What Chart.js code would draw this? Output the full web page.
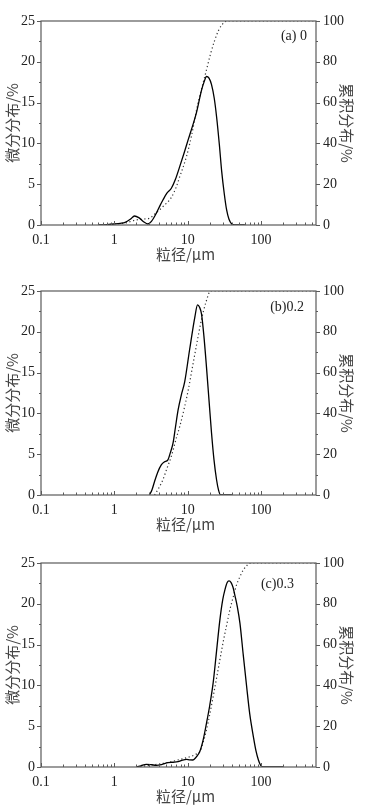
<!DOCTYPE html>
<html>
<head>
<meta charset="utf-8">
<script src="https://cdn.jsdelivr.net/npm/chart.js@4.4.0/dist/chart.umd.min.js"></script>
<style>
  body { margin: 0; background: #fff; }
  .panel { position: absolute; left: 0; width: 374px; height: 270px; }
</style>
</head>
<body>
<div class="panel" style="top:0"><canvas id="c0" width="374" height="270"></canvas></div>
<div class="panel" style="top:270px"><canvas id="c1" width="374" height="270"></canvas></div>
<div class="panel" style="top:542px"><canvas id="c2" width="374" height="270"></canvas></div>
<script>
// x ticks (particle size, um)
const xTickLabels = [0.1, 1, 10, 100];

// (a) 0
const sizeA = [0.6, 0.8, 1.0, 1.2, 1.4, 1.65, 1.88, 2.15, 2.5, 2.86, 3.2, 3.72, 4.2, 4.59, 5.2, 5.98, 6.8, 7.77, 8.9, 10.1, 11.5, 13.1, 15.4, 16.8, 18.0, 19.5, 21.1, 23, 24.7, 27, 29, 31.5, 33.9, 36.5, 39.8, 43, 60];
const diffA = [0, 0.05, 0.12, 0.2, 0.32, 0.7, 1.1, 0.9, 0.4, 0.12, 0.45, 1.43, 2.4, 3.06, 3.9, 4.5, 5.6, 7.15, 8.8, 10.4, 12.0, 13.7, 16.5, 17.6, 18.2, 18.0, 17.2, 15.5, 13.3, 9.8, 6.6, 3.8, 1.84, 0.7, 0.12, 0, 0];
const cumSizeA = [0.7, 1.0, 1.4, 2.0, 2.5, 3.0, 3.6, 4.59, 5.98, 7.0, 7.77, 9.6, 11.3, 13.1, 15.5, 18.0, 20.5, 23.4, 26, 29, 32, 34, 40, 600];
const cumA = [0, 0.5, 1.0, 2.5, 2.9, 3.3, 5.5, 9, 13.5, 18.8, 23.6, 33.5, 44, 56, 67, 76, 84, 90.7, 95, 98, 99.5, 100, 100, 100];

// (b) 0.2
const sizeB = [3.0, 3.25, 3.53, 3.9, 4.36, 4.8, 5.37, 5.8, 6.3, 6.8, 7.38, 8.2, 9.1, 10.6, 12.5, 13.6, 14.5, 15.4, 16.6, 18.0, 19.5, 21.1, 22.8, 24.7, 26.3, 28, 40];
const diffB = [0, 0.6, 1.66, 2.8, 3.7, 4.05, 4.3, 5.2, 6.35, 8.3, 10.4, 12.3, 13.9, 17.8, 21.8, 23.3, 23.0, 22.2, 19.5, 15.7, 11.6, 7.6, 4.3, 1.87, 0.6, 0, 0];
const cumSizeB = [3.53, 4.0, 4.59, 5.2, 5.98, 7.0, 7.77, 8.9, 10.1, 11.5, 13.1, 15.4, 17.7, 20.5, 30, 600];
const cumB = [0, 3.2, 7.5, 13, 19, 28, 33.5, 42, 51, 62, 73, 86, 94.5, 100, 100, 100];

// (c) 0.3
const sizeC = [2.0, 2.3, 2.72, 3.2, 3.72, 4.4, 5.37, 6.3, 7.38, 8.5, 9.6, 10.6, 11.8, 13, 14.6, 16.2, 18.0, 20, 22.2, 24.7, 27.4, 30, 32.1, 34.5, 36.5, 39, 41.5, 44, 47.5, 51.5, 57, 63.6, 70, 78.5, 85, 91.9, 98, 105, 200];
const diffC = [0, 0.15, 0.33, 0.28, 0.2, 0.3, 0.53, 0.58, 0.65, 0.85, 0.94, 0.88, 0.86, 1.2, 1.9, 3.3, 5.35, 7.6, 10.3, 14.2, 18.0, 20.5, 21.7, 22.6, 22.8, 22.6, 22.0, 21.0, 19.6, 17.6, 13.8, 9.8, 6.5, 3.7, 2.0, 0.86, 0.25, 0, 0];
const cumSizeC = [2.0, 3.0, 5.0, 8.0, 11.0, 13.0, 14.6, 16.2, 18.0, 20, 22.2, 24.7, 27.4, 30.5, 33.9, 37.5, 41.8, 46, 51.5, 57.2, 64, 73, 100, 600];
const cumC = [0, 0.8, 2, 3.8, 5.2, 6.3, 7.5, 12, 18.1, 26, 34.5, 43.5, 52.5, 61.5, 69.5, 77, 83.5, 89, 93.3, 96.6, 98.8, 100, 100, 100];

const panels = [
  { id: 'c0', text: '(a) 0', dx: 9, dy: 15, sizes: sizeA, diff: diffA, cumSizes: cumSizeA, cum: cumA },
  { id: 'c1', text: '(b)0.2', dx: 12, dy: 16.5, sizes: sizeB, diff: diffB, cumSizes: cumSizeB, cum: cumB },
  { id: 'c2', text: '(c)0.3', dx: 22, dy: 21.5, sizes: sizeC, diff: diffC, cumSizes: cumSizeC, cum: cumC }
];

const serif = '"Liberation Serif", "Times New Roman", serif';
const cjk = '"Noto Sans CJK SC", sans-serif';
const tickColor = '#222';
const titleColor = '#444';

// frame, tick marks, x title and the panel label
const framePlugin = {
  id: 'frame',
  afterDatasetsDraw(chart, args, opts) {
    const { ctx, chartArea: a, scales } = chart;
    ctx.save();
    ctx.strokeStyle = '#5a5a5a';
    ctx.lineWidth = 1.2;
    ctx.strokeRect(a.left, a.top, a.right - a.left, a.bottom - a.top);

    ctx.lineWidth = 1;
    ctx.beginPath();
    for (let v = 0; v <= 25; v += 2.5) {
      const y = Math.round(scales.y.getPixelForValue(v)) + 0.5;
      const len = v % 5 === 0 ? 4 : 2;
      ctx.moveTo(a.left - len, y);
      ctx.lineTo(a.left, y);
    }
    for (let v = 0; v <= 100; v += 10) {
      const y = Math.round(scales.y2.getPixelForValue(v)) + 0.5;
      const len = v % 20 === 0 ? 4 : 2;
      ctx.moveTo(a.right, y);
      ctx.lineTo(a.right + len, y);
    }
    for (let d = -1; d < 3; d++) {
      for (let m = 1; m < 10; m++) {
        const val = m * Math.pow(10, d);
        if (val > scales.x.max) break;
        const x = Math.round(scales.x.getPixelForValue(val)) + 0.5;
        const len = m === 1 ? 4 : 2.5;
        ctx.moveTo(x, a.bottom);
        ctx.lineTo(x, a.bottom - len);
      }
    }
    ctx.stroke();

    // x axis title, a bit right of centre like the original
    ctx.fillStyle = titleColor;
    ctx.font = '15px ' + cjk;
    ctx.textAlign = 'center';
    ctx.textBaseline = 'middle';
    ctx.fillText('粒径/μm', (a.left + a.right) / 2 + 7, chart.height - 16);

    ctx.fillStyle = tickColor;
    ctx.font = '14px ' + serif;
    ctx.textAlign = 'right';
    ctx.fillText(opts.text, a.right - opts.dx, a.top + opts.dy);
    ctx.restore();
  }
};

panels.forEach(function (p) {
  const diffPts = p.sizes.map((s, i) => ({ x: s, y: p.diff[i] }));
  const cumPts = p.cumSizes.map((s, i) => ({ x: s, y: p.cum[i] }));

  new Chart(document.getElementById(p.id), {
    type: 'line',
    data: {
      datasets: [
        {
          data: diffPts,
          yAxisID: 'y',
          borderColor: '#000',
          borderWidth: 1.3,
          pointRadius: 0,
          fill: false,
          cubicInterpolationMode: 'monotone'
        },
        {
          data: cumPts,
          yAxisID: 'y2',
          borderColor: '#333',
          borderWidth: 1.2,
          borderDash: [1.2, 2.6],
          pointRadius: 0,
          fill: false,
          cubicInterpolationMode: 'monotone'
        }
      ]
    },
    options: {
      responsive: false,
      animation: false,
      devicePixelRatio: 1,
      layout: { padding: { top: 21, left: 0, right: 0, bottom: 0 } },
      plugins: {
        legend: { display: false },
        tooltip: { enabled: false },
        frame: { text: p.text, dx: p.dx, dy: p.dy }
      },
      scales: {
        x: {
          type: 'logarithmic',
          min: 0.1,
          max: 560,
          afterBuildTicks: s => { s.ticks = xTickLabels.map(v => ({ value: v })); },
          afterFit: s => { s.height = 45; },
          grid: { display: false, drawTicks: false },
          border: { display: false },
          ticks: {
            autoSkip: false,
            maxRotation: 0,
            padding: 7,
            color: tickColor,
            font: { family: serif, size: 14 },
            callback: v => String(v)
          }
        },
        y: {
          position: 'left',
          min: 0,
          max: 25,
          afterFit: s => { s.width = 41; },
          grid: { display: false, drawTicks: false },
          border: { display: false },
          ticks: { stepSize: 5, padding: 6, color: tickColor, font: { family: serif, size: 14 } },
          title: {
            display: true,
            text: '微分分布/%',
            color: titleColor,
            font: { family: cjk, size: 15 },
            padding: { top: 3, bottom: 0 }
          }
        },
        y2: {
          position: 'right',
          min: 0,
          max: 100,
          afterFit: s => { s.width = 58; },
          grid: { display: false, drawTicks: false },
          border: { display: false },
          ticks: { stepSize: 20, padding: 7, color: tickColor, font: { family: serif, size: 14 } },
          title: {
            display: true,
            text: '累积分布/%',
            color: titleColor,
            font: { family: cjk, size: 15 },
            padding: { top: 18, bottom: 0 }
          }
        }
      }
    },
    plugins: [framePlugin]
  });
});
</script>
</body>
</html>
